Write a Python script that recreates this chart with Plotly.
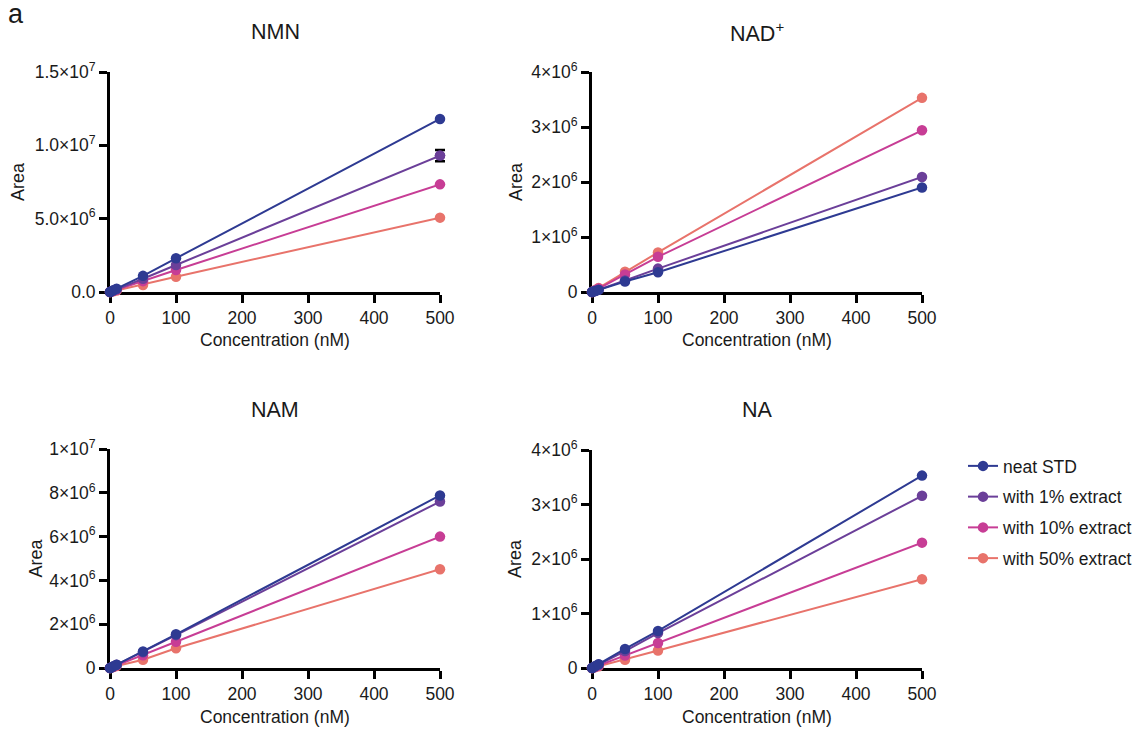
import plotly.graph_objects as go

# page body has an 8px margin; figure is placed at (8, 8)
OFF = 8
FW, FH = 1133, 722


def X(px):
    return (px - OFF) / FW


def Y(py):
    return 1 - (py - OFF) / FH


conc = [0, 1, 5, 10, 50, 100, 500]
series_names = ["neat STD", "with 1% extract", "with 10% extract", "with 50% extract"]
colors = ["#2E3A92", "#6B3F99", "#C73D95", "#E8736B"]

nmn_neat = [0, 2.4e4, 1.2e5, 2.3e5, 1.10e6, 2.30e6, 1.18e7]
nmn_1 = [0, 1.9e4, 9.5e4, 1.9e5, 9.0e5, 1.84e6, 9.30e6]
nmn_10 = [0, 1.5e4, 7.5e4, 1.5e5, 7.4e5, 1.50e6, 7.34e6]
nmn_50 = [0, 1.0e4, 5.0e4, 1.0e5, 4.8e5, 1.04e6, 5.07e6]
nmn_1_err_500 = 3.9e5

nad_neat = [0, 4e3, 1.9e4, 3.8e4, 1.9e5, 3.6e5, 1.90e6]
nad_1 = [0, 4e3, 2.1e4, 4.2e4, 2.1e5, 4.25e5, 2.09e6]
nad_10 = [0, 6e3, 3.1e4, 6.3e4, 3.2e5, 6.4e5, 2.94e6]
nad_50 = [0, 7e3, 3.6e4, 7.2e4, 3.7e5, 7.2e5, 3.53e6]

nam_neat = [0, 1.5e4, 7.6e4, 1.5e5, 7.5e5, 1.54e6, 7.88e6]
nam_1 = [0, 1.5e4, 7.4e4, 1.5e5, 7.2e5, 1.50e6, 7.60e6]
nam_10 = [0, 1.2e4, 6.0e4, 1.2e5, 5.8e5, 1.20e6, 6.00e6]
nam_50 = [0, 9e3, 4.5e4, 9e4, 3.8e5, 9.0e5, 4.51e6]

na_neat = [0, 7e3, 3.5e4, 7e4, 3.5e5, 6.8e5, 3.53e6]
na_1 = [0, 6e3, 3.1e4, 6.3e4, 3.1e5, 6.4e5, 3.16e6]
na_10 = [0, 4.6e3, 2.3e4, 4.6e4, 2.3e5, 4.6e5, 2.30e6]
na_50 = [0, 3.2e3, 1.6e4, 3.2e4, 1.5e5, 3.2e5, 1.63e6]

x_ticks = [0, 100, 200, 300, 400, 500]
x_ticklabels = ["0", "100", "200", "300", "400", "500"]

panels = [
    dict(title="NMN", data=[nmn_neat, nmn_1, nmn_10, nmn_50],
         yrange=[0, 1.5e7], yticks=[0, 5e6, 1e7, 1.5e7],
         ylabels=["0.0", "5.0×10<sup>6</sup>", "1.0×10<sup>7</sup>", "1.5×10<sup>7</sup>"],
         px=(110, 440), py=(292, 72), area_x=18, title_y=32, xt_y=340),
    dict(title="NAD<sup>+</sup>", data=[nad_neat, nad_1, nad_10, nad_50],
         yrange=[0, 4e6], yticks=[0, 1e6, 2e6, 3e6, 4e6],
         ylabels=["0", "1×10<sup>6</sup>", "2×10<sup>6</sup>", "3×10<sup>6</sup>", "4×10<sup>6</sup>"],
         px=(592, 922), py=(292, 72), area_x=516, title_y=32, xt_y=340),
    dict(title="NAM", data=[nam_neat, nam_1, nam_10, nam_50],
         yrange=[0, 1e7], yticks=[0, 2e6, 4e6, 6e6, 8e6, 1e7],
         ylabels=["0", "2×10<sup>6</sup>", "4×10<sup>6</sup>", "6×10<sup>6</sup>", "8×10<sup>6</sup>", "1×10<sup>7</sup>"],
         px=(110, 440), py=(668, 449), area_x=35, title_y=410, xt_y=717),
    dict(title="NA", data=[na_neat, na_1, na_10, na_50],
         yrange=[0, 4e6], yticks=[0, 1e6, 2e6, 3e6, 4e6],
         ylabels=["0", "1×10<sup>6</sup>", "2×10<sup>6</sup>", "3×10<sup>6</sup>", "4×10<sup>6</sup>"],
         px=(592, 922), py=(668, 450), area_x=515, title_y=410, xt_y=717),
]

FONT = "Liberation Sans, Arial, Helvetica, sans-serif"
TXT = "#1a1a1a"
MSIZE = 10.5

fig = go.Figure()
annotations = []
layout_axes = {}

for i, p in enumerate(panels):
    n = "" if i == 0 else str(i + 1)
    xa, ya = "x" + n, "y" + n
    for j in [3, 2, 1, 0]:
        fig.add_trace(go.Scatter(
            x=conc, y=p["data"][j], mode="lines+markers", name=series_names[j],
            line=dict(color=colors[j], width=2),
            marker=dict(color=colors[j], size=MSIZE),
            xaxis=xa, yaxis=ya, cliponaxis=False,
            legendgroup=series_names[j], showlegend=(i == 0), legendrank=j + 1,
            hoverinfo="skip",
        ))
    x0, x1 = p["px"]
    yb, yt = p["py"]
    axis_common = dict(showline=True, linecolor="black", linewidth=3, ticks="outside",
                       ticklen=8, tickwidth=3, tickcolor="black", showgrid=False, zeroline=False,
                       tickfont=dict(family=FONT, size=17.5, color=TXT), layer="below traces",
                       automargin=False)
    layout_axes["xaxis" + n] = dict(domain=[X(x0), X(x1)], anchor=ya, range=[0, 500],
                                    tickmode="array", tickvals=x_ticks, ticktext=x_ticklabels,
                                    **axis_common)
    layout_axes["yaxis" + n] = dict(domain=[Y(yb), Y(yt)], anchor=xa, range=p["yrange"],
                                    tickmode="array", tickvals=p["yticks"], ticktext=p["ylabels"],
                                    **axis_common)
    cx = (x0 + x1) / 2
    annotations.append(dict(text=p["title"], x=X(cx), y=Y(p["title_y"]), xref="paper", yref="paper",
                            showarrow=False, xanchor="center", yanchor="middle",
                            font=dict(family=FONT, size=21.5, color=TXT)))
    annotations.append(dict(text="Concentration (nM)", x=X(cx), y=Y(p["xt_y"]), xref="paper", yref="paper",
                            showarrow=False, xanchor="center", yanchor="middle",
                            font=dict(family=FONT, size=17.5, color=TXT)))
    annotations.append(dict(text="Area", x=X(p["area_x"]), y=Y((yb + yt) / 2), xref="paper", yref="paper",
                            showarrow=False, xanchor="center", yanchor="middle", textangle=-90,
                            font=dict(family=FONT, size=18, color=TXT)))

# error bar for "with 1% extract" at 500 nM (NMN) on a hidden helper x-axis that extends
# a little past 500 so the bar is not clipped at the plot edge
ext = 12  # px
x0, x1 = panels[0]["px"]
layout_axes["xaxis5"] = dict(domain=[X(x0), X(x1 + ext)], anchor="y", visible=False,
                             range=[0, 500 * (x1 + ext - x0) / (x1 - x0)], automargin=False)
fig.add_trace(go.Scatter(
    x=[conc[-1]], y=[nmn_1[-1]], mode="markers", showlegend=False, hoverinfo="skip",
    marker=dict(color=colors[1], size=MSIZE), xaxis="x5", yaxis="y", cliponaxis=False,
    error_y=dict(type="data", array=[nmn_1_err_500], color="black", thickness=2.5, width=5),
))

annotations.append(dict(text="a", x=X(16), y=Y(14), xref="paper", yref="paper",
                        showarrow=False, xanchor="center", yanchor="middle",
                        font=dict(family=FONT, size=27, color=TXT)))

fig.update_layout(
    width=FW, height=FH,
    margin=dict(l=0, r=0, t=0, b=0, autoexpand=False),
    paper_bgcolor="white", plot_bgcolor="rgba(0,0,0,0)",
    annotations=annotations,
    showlegend=True,
    legend=dict(x=X(963), y=Y(448), xanchor="left", yanchor="top",
                font=dict(family=FONT, size=17.5, color=TXT),
                traceorder="grouped", tracegroupgap=5, bgcolor="rgba(0,0,0,0)",
                itemwidth=30),
    **layout_axes,
)

fig.write_html("out.html")
